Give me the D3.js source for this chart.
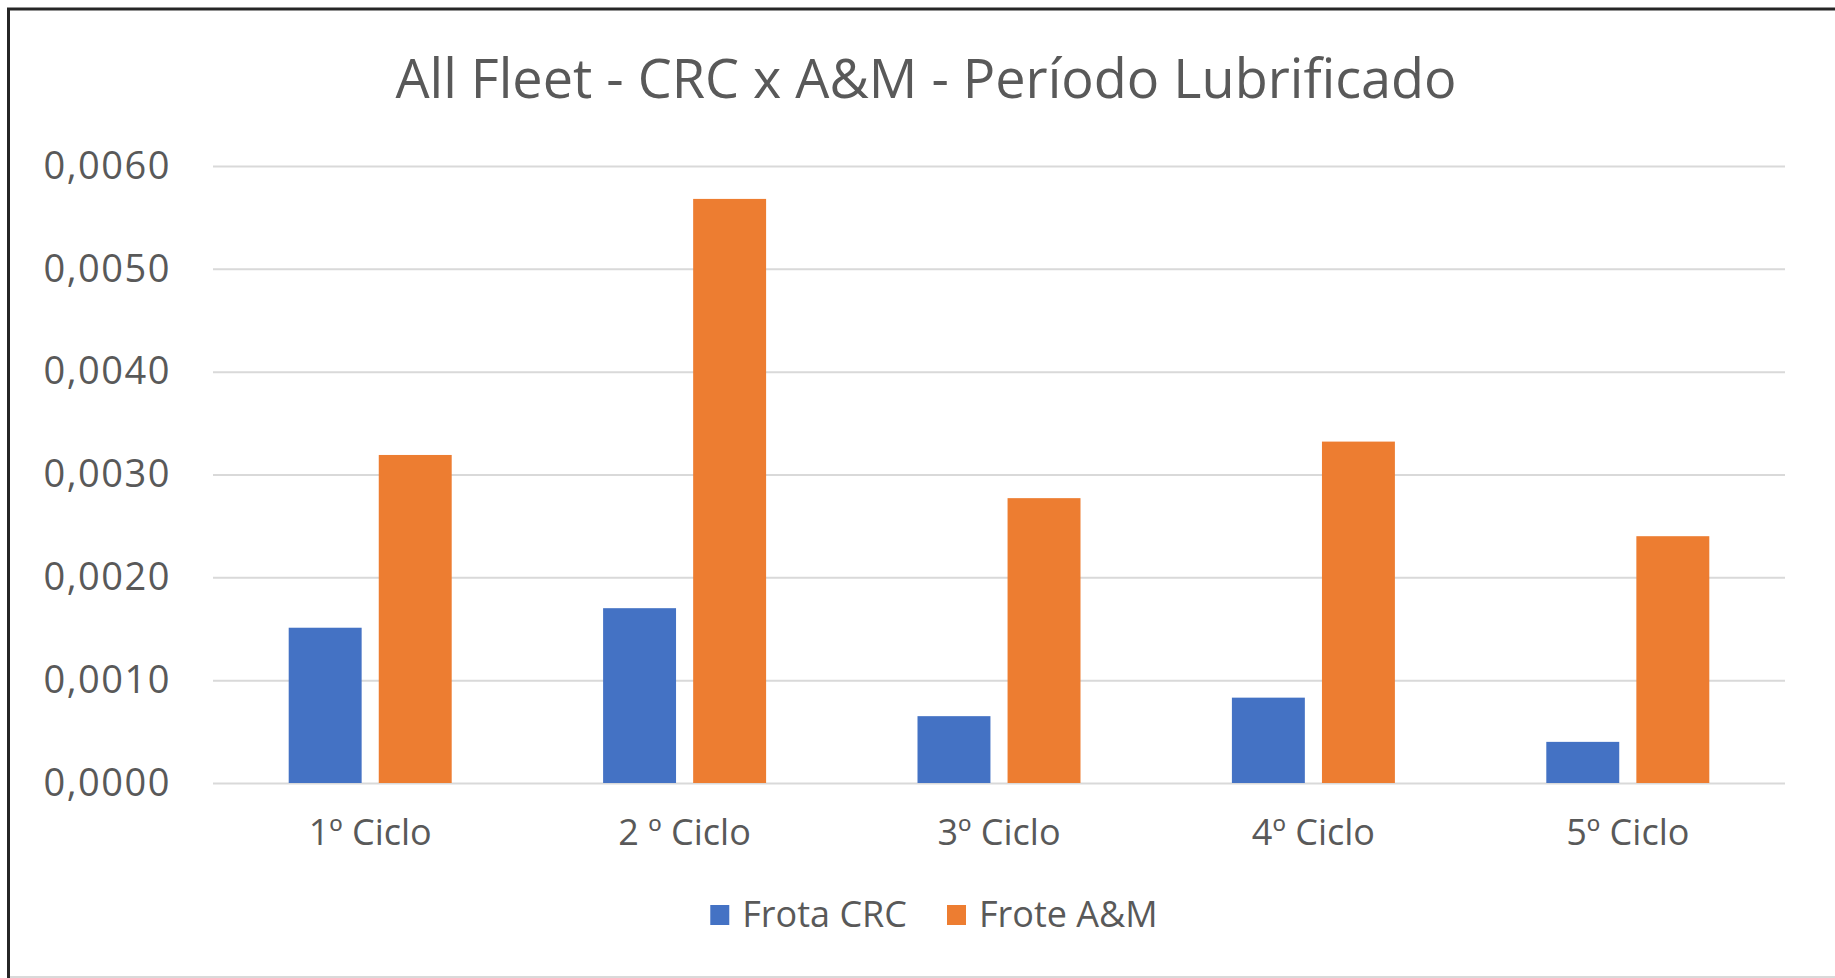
<!DOCTYPE html>
<html>
<head>
<meta charset="utf-8">
<script src="https://cdn.jsdelivr.net/npm/d3@7"></script>
<style>
  html, body { margin: 0; padding: 0; background: #fff; }
  svg text { font-family: "Open Sans", sans-serif; fill: #595959; }
</style>
</head>
<body>
<div id="vis"></div>
<script>
// Chart data
var categories = ['1º Ciclo', '2 º Ciclo', '3º Ciclo', '4º Ciclo', '5º Ciclo'];
var seriesNames = ['Frota CRC', 'Frote A&M'];
var frotaCRC = [0.00151, 0.00170, 0.00065, 0.00083, 0.00040];
var froteAM = [0.00319, 0.00568, 0.00277, 0.00332, 0.00240];
var yTicks = [0, 0.001, 0.002, 0.003, 0.004, 0.005, 0.006];
var title = 'All Fleet - CRC x A&M - Período Lubrificado';

var colors = ['#4472C4', '#ED7D31'];

// SVG size and plot margins
var width = 1835;
var height = 978;
var margin = { top: 166, right: 50, bottom: 195, left: 213 };
var drawWidth = width - margin.left - margin.right;
var drawHeight = height - margin.top - margin.bottom;

var svg = d3.select('#vis')
    .append('svg')
    .attr('width', width)
    .attr('height', height);

svg.append('rect')
    .attr('width', width)
    .attr('height', height)
    .attr('fill', '#fff');

// frame: dark left / top edge, light bottom edge
svg.append('line').attr('x1', 8.5).attr('x2', 8.5).attr('y1', 8).attr('y2', height)
    .attr('stroke', '#262626').attr('stroke-width', 3);
svg.append('line').attr('x1', 7).attr('x2', width).attr('y1', 9).attr('y2', 9)
    .attr('stroke', '#262626').attr('stroke-width', 3);
svg.append('line').attr('x1', 10).attr('x2', width).attr('y1', 977).attr('y2', 977)
    .attr('stroke', '#d9d9d9').attr('stroke-width', 2);

// title
svg.append('text')
    .attr('x', 926)
    .attr('y', 98)
    .attr('text-anchor', 'middle')
    .style('font-size', '54px')
    .text(title);

var g = svg.append('g')
    .attr('transform', 'translate(' + margin.left + ',' + margin.top + ')');

// scales
var x0 = d3.scaleBand()
    .domain(categories)
    .range([0, drawWidth]);

var groupW = 163;
var x1 = d3.scaleBand()
    .domain(seriesNames)
    .range([(x0.bandwidth() - groupW) / 2, (x0.bandwidth() + groupW) / 2])
    .paddingInner(0.19);

var yScale = d3.scaleLinear()
    .domain([0, 0.006])
    .range([drawHeight, 0]);

var ptBR = d3.formatLocale({ decimal: ',', thousands: '.', grouping: [3], currency: ['R$', ''] });

// y axis with gridlines
var yAxis = d3.axisLeft(yScale)
    .tickValues(yTicks)
    .tickFormat(ptBR.format('.4f'))
    .tickSize(-drawWidth)
    .tickPadding(42);

var gY = g.append('g').call(yAxis);
gY.select('.domain').remove();
gY.selectAll('.tick line').attr('stroke', '#d9d9d9').attr('stroke-width', 2);
gY.selectAll('.tick text')
    .style('font-size', '38px')
    .style('letter-spacing', '1.5px')
    .attr('fill', '#595959');

// bars
var seriesData = [frotaCRC, froteAM];
var groups = g.selectAll('.grp')
    .data(categories)
    .enter()
    .append('g')
    .attr('class', 'grp')
    .attr('transform', function(d) { return 'translate(' + x0(d) + ',0)'; });

groups.selectAll('rect')
    .data(function(d, i) {
        return seriesNames.map(function(s, j) { return { s: s, v: seriesData[j][i], j: j }; });
    })
    .enter()
    .append('rect')
    .attr('x', function(d) { return x1(d.s); })
    .attr('width', x1.bandwidth())
    .attr('y', function(d) { return yScale(d.v); })
    .attr('height', function(d) { return drawHeight - yScale(d.v); })
    .attr('fill', function(d) { return colors[d.j]; });

// x axis labels
var xAxis = d3.axisBottom(x0)
    .tickSize(0)
    .tickPadding(36);

var gX = g.append('g')
    .attr('transform', 'translate(0,' + drawHeight + ')')
    .call(xAxis);
gX.select('.domain').remove();
gX.selectAll('.tick text')
    .style('font-size', '36px')
    .attr('fill', '#595959');

// legend
var legend = svg.append('g');
var lx = 0;
seriesNames.forEach(function(name, i) {
    var item = legend.append('g').attr('transform', 'translate(' + lx + ',0)');
    item.append('rect')
        .attr('x', 0).attr('y', 905)
        .attr('width', 19).attr('height', 20)
        .attr('fill', colors[i]);
    var t = item.append('text')
        .attr('x', 32).attr('y', 927)
        .style('font-size', '36px')
        .text(name);
    lx += 32 + t.node().getComputedTextLength() + 40;
});
var legendW = lx - 40;
legend.attr('transform', 'translate(' + (934 - legendW / 2) + ',0)');
</script>
</body>
</html>
